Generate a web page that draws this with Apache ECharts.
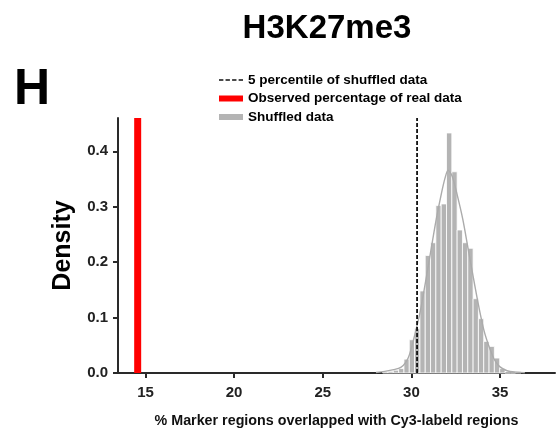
<!DOCTYPE html>
<html>
<head>
<meta charset="utf-8">
<script src="https://cdn.jsdelivr.net/npm/echarts@6/dist/echarts.min.js"></script>
<style>
html,body{margin:0;padding:0;background:#fff;}
#chart{width:557px;height:433px;}
</style>
</head>
<body>
<div id="chart"></div>
<script>
// ---- data ----
const xTicks = [15, 20, 25, 30, 35];
const yTicks = [0, 0.1, 0.2, 0.3, 0.4];
const binWidth = 0.3;
const binLeft = [28.38, 28.68, 28.98, 29.28, 29.58, 29.88, 30.18, 30.48, 30.78, 31.08, 31.38, 31.68, 31.98, 32.28, 32.58, 32.88, 33.18, 33.48, 33.78, 34.08, 34.38, 34.68, 34.98, 35.28, 35.58, 35.88];
const binDensity = [0.002, 0.003, 0.005, 0.008, 0.025, 0.060, 0.080, 0.148, 0.212, 0.235, 0.302, 0.305, 0.433, 0.363, 0.258, 0.235, 0.225, 0.134, 0.098, 0.057, 0.048, 0.027, 0.008, 0, 0, 0.003];
const kdeX = [28.0, 28.5, 29.0, 29.4, 29.7, 29.9, 30.2, 30.5, 30.8, 31.1, 31.4, 31.7, 31.9, 32.07, 32.3, 32.6, 32.9, 33.2, 33.5, 33.8, 34.1, 34.4, 34.7, 35.0, 35.4, 35.9, 36.4];
const kdeY = [0.001, 0.003, 0.006, 0.010, 0.020, 0.034, 0.070, 0.111, 0.165, 0.221, 0.277, 0.325, 0.352, 0.366, 0.355, 0.319, 0.277, 0.224, 0.171, 0.120, 0.076, 0.046, 0.023, 0.011, 0.004, 0.0015, 0.0005];
const observedValue = 14.56;
const percentile5 = 30.32;
const yMax = 0.46;

const FONT = "'Liberation Sans', Arial, Helvetica, sans-serif";
const AXIS_COLOR = '#2a2a2a';
const DASH_ICON = 'path://M0,0h4v1.6h-4zM6,0h4v1.6h-4zM12,0h4v1.6h-4zM18,0h4v1.6h-4z';

const chart = echarts.init(document.getElementById('chart'), null, {renderer: 'canvas'});

const histData = binLeft.map((b, i) => [b, b + binWidth, binDensity[i]]);
const kdeData = kdeX.map((x, i) => [x, kdeY[i]]);

const option = {
  backgroundColor: '#ffffff',
  animation: false,
  title: [
    {text: 'H3K27me3', left: 322, top: 7, textAlign: 'center',
     textStyle: {fontFamily: FONT, fontWeight: 'bold', fontSize: 33, color: '#000'}},
    {text: 'H', left: 9, top: 60,
     textStyle: {fontFamily: FONT, fontWeight: 'bold', fontSize: 50, color: '#000'}}
  ],
  legend: {
    orient: 'vertical',
    left: 219,
    top: 72,
    padding: 0,
    itemWidth: 24,
    itemHeight: 6,
    itemGap: 2.5,
    textStyle: {fontFamily: FONT, fontWeight: 'bold', fontSize: 13.5, color: '#000', lineHeight: 16},
    data: [
      {name: '5 percentile of shuffled data', icon: DASH_ICON, itemStyle: {color: '#111'}},
      {name: 'Observed percentage of real data', icon: 'rect'},
      {name: 'Shuffled data', icon: 'rect'}
    ]
  },
  grid: {left: 118, right: 2, top: 118, bottom: 55, containLabel: false},
  xAxis: {
    type: 'value',
    min: 13.45,
    max: 38.1,
    name: '% Marker regions overlapped with Cy3-labeld regions',
    nameLocation: 'middle',
    nameGap: 41,
    nameTextStyle: {fontFamily: FONT, fontWeight: 'bold', fontSize: 14.3, color: '#111'},
    axisLine: {show: true, onZero: false, lineStyle: {color: AXIS_COLOR, width: 2}},
    axisTick: {show: true, length: 5, lineStyle: {color: AXIS_COLOR, width: 2}, customValues: xTicks},
    axisLabel: {customValues: xTicks, margin: 12, fontFamily: FONT, fontWeight: 'bold', fontSize: 15, color: '#222'},
    splitLine: {show: false}
  },
  yAxis: {
    type: 'value',
    min: 0,
    max: yMax,
    name: 'Density',
    nameLocation: 'middle',
    nameGap: 42,
    nameTextStyle: {fontFamily: FONT, fontWeight: 'bold', fontSize: 25, color: '#000'},
    axisLine: {show: true, lineStyle: {color: AXIS_COLOR, width: 2}},
    axisTick: {show: true, length: 5, lineStyle: {color: AXIS_COLOR, width: 2}, customValues: yTicks},
    axisLabel: {customValues: yTicks, margin: 10, fontFamily: FONT, fontWeight: 'bold', fontSize: 15, color: '#222',
      formatter: v => v.toFixed(1)},
    splitLine: {show: false}
  },
  series: [
    {
      name: 'Shuffled data',
      type: 'custom',
      itemStyle: {color: '#b4b4b4'},
      encode: {x: [0, 1], y: 2},
      data: histData,
      z: 2,
      renderItem: function (params, api) {
        const p0 = api.coord([api.value(0), api.value(2)]);
        const p1 = api.coord([api.value(1), 0]);
        return {
          type: 'rect',
          shape: {x: p0[0], y: p0[1], width: p1[0] - p0[0], height: p1[1] - p0[1]},
          style: {fill: '#b4b4b4', stroke: '#ffffff', lineWidth: 0.8}
        };
      }
    },
    {
      name: 'kde',
      type: 'line',
      data: kdeData,
      smooth: 0.3,
      symbol: 'none',
      z: 3,
      lineStyle: {color: '#ababab', width: 1.4}
    },
    {
      name: 'Observed percentage of real data',
      type: 'bar',
      data: [[observedValue, yMax]],
      barWidth: 7,
      z: 4,
      itemStyle: {color: '#ff0000'}
    },
    {
      name: '5 percentile of shuffled data',
      type: 'line',
      data: [[percentile5, 0], [percentile5, yMax]],
      symbol: 'none',
      z: 5,
      itemStyle: {color: '#111'},
      lineStyle: {color: '#111', width: 1.8, type: [4, 2]}
    }
  ]
};
chart.setOption(option);
</script>
</body>
</html>
